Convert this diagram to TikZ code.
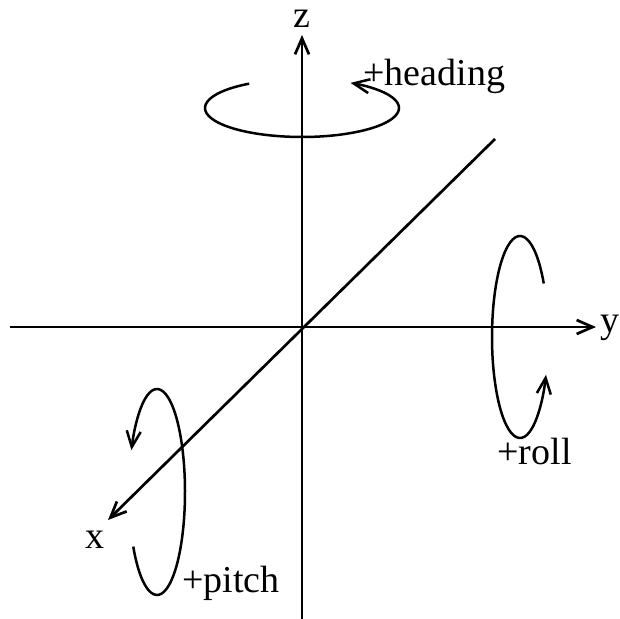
\documentclass[tikz,border=0pt]{standalone}
\usepackage{fontspec}
\setmainfont{Liberation Serif}
\usetikzlibrary{positioning,arrows.meta}

\begin{document}
\begin{tikzpicture}[
			x=0.5pt,y=0.5pt,
			font=\fontsize{19}{23}\selectfont,
			>={Straight Barb[length=8pt,width=7pt]},
			axis/.style={line width=1.35pt,->},
			turn/.style={line width=1.25pt,->},
			lbl/.style={inner sep=0pt,anchor=base west},
			]
			\useasboundingbox (-302,-292) rectangle (317,327);
			
			% Axes
			\coordinate (o) at (0,0);
			\coordinate (zbot) at (0,-292);
			\coordinate (ztop) at (0,292);
			\coordinate (yleft) at (-292,0);
			\coordinate (yright) at (294,0);
			\coordinate (xback) at (193,188);
			\coordinate (xfront) at (-194,-193);
			
			\draw[axis] (zbot) -- (ztop);
			\draw[axis] (yleft) -- (yright);
			\draw[axis] (xback) -- (xfront);
			
			% Axis labels
			\node[inner sep=0pt,anchor=base] (zlab) at (0,299) {z};
			\node[lbl] (ylab) at (298,-6) {y};
			\node[lbl] (xlab) at (-217,-221) {x};
			
			% Rotation arrows
			\coordinate (hc) at (0,219);
			\coordinate (rc) at (218,-10);
			\coordinate (pc) at (-145,-165);
			
			\draw[turn] (hc) ++(123:48.5pt and 14.5pt)
			arc[start angle=123,end angle=420,x radius=48.5pt,y radius=14.5pt];
			\draw[turn] (rc) ++(32:14pt and 50.5pt)
			arc[start angle=32,end angle=338,x radius=14pt,y radius=50.5pt];
			\draw[turn] (pc) ++(212:14pt and 51.5pt)
			arc[start angle=212,end angle=516,x radius=14pt,y radius=51.5pt];
			
			% Rotation labels
			\node[lbl] (heading) at (61,241) {+heading};
			\node[lbl] (roll) at (195,-138) {+roll};
			\node[lbl] (pitch) at (-120,-265) {+pitch};
			
		\end{tikzpicture}
\end{document}
